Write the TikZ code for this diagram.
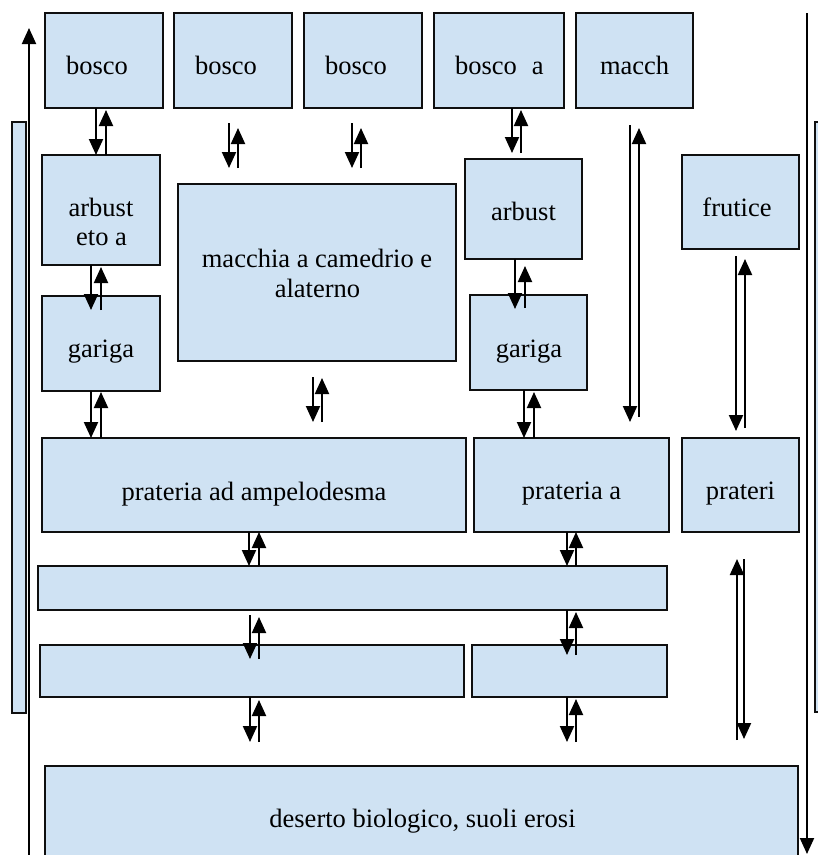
\documentclass[tikz,border=0pt]{standalone}
\usepackage{fontspec}
\setmainfont{Liberation Serif}
\usetikzlibrary{arrows.meta}
\definecolor{boxfill}{RGB}{207,226,243}
\definecolor{ink}{RGB}{15,15,15}
\begin{document}
\begin{tikzpicture}[x=1pt,y=-1pt,
  box/.style={draw=ink, fill=boxfill, line width=2.1pt, inner sep=0pt, outer sep=0pt, anchor=north west},
  lbl/.style={font=\fontsize{26.5}{30}\selectfont, inner sep=0pt, outer sep=0pt, text=black},
  arr/.style={draw=black, line width=2pt, -{Triangle[length=16pt,width=14pt]}},
]
\useasboundingbox (0,0) rectangle (818,855);
% boxes
\node[box, minimum width=118pt, minimum height=95pt] (bosco1) at (45,13) {};
\node[box, minimum width=118pt, minimum height=95pt] (bosco2) at (174,13) {};
\node[box, minimum width=118pt, minimum height=95pt] (bosco3) at (304,13) {};
\node[box, minimum width=130pt, minimum height=95pt] (boscoa) at (434,13) {};
\node[box, minimum width=117pt, minimum height=95pt] (macch) at (576,13) {};
\node[box, minimum width=118pt, minimum height=110pt] (arbL) at (42,155) {};
\node[box, minimum width=278pt, minimum height=177pt] (mac) at (178,184) {};
\node[box, minimum width=117pt, minimum height=100pt] (arbR) at (465,159) {};
\node[box, minimum width=117pt, minimum height=94pt] (frut) at (682,155) {};
\node[box, minimum width=118pt, minimum height=95pt] (garL) at (42,296) {};
\node[box, minimum width=117pt, minimum height=95pt] (garR) at (470,295) {};
\node[box, minimum width=424pt, minimum height=94pt] (pratL) at (42,438) {};
\node[box, minimum width=195pt, minimum height=94pt] (pratM) at (474,438) {};
\node[box, minimum width=117pt, minimum height=94pt] (pratR) at (682,438) {};
\node[box, minimum width=629pt, minimum height=44pt] (long) at (38,566) {};
\node[box, minimum width=424pt, minimum height=52pt] (r6L) at (40,645) {};
\node[box, minimum width=195pt, minimum height=52pt] (r6R) at (472,645) {};
\node[box, minimum width=753pt, minimum height=110pt] (des) at (45,766) {};
\node[box, minimum width=14pt, minimum height=591pt] (sideL) at (12,122) {};
\node[box, minimum width=16pt, minimum height=590pt] (sideR) at (815,122) {};
% labels
\node[lbl, anchor=base west] (t1) at (66,74) {bosco};
\node[lbl, anchor=base west] (t2) at (195,74) {bosco};
\node[lbl, anchor=base west] (t3) at (325,74) {bosco};
\node[lbl, anchor=base west] (t4) at (455,74) {bosco\hspace{15pt}a};
\node[lbl, anchor=base west] (t5) at (600,74) {macch};
\node[lbl, anchor=base] (t6) at (101,216) {arbust};
\node[lbl, anchor=base] (t7) at (101.5,245) {eto a};
\node[lbl, anchor=base] (t8) at (317,267) {macchia a camedrio e};
\node[lbl, anchor=base] (t9) at (317.5,297) {alaterno};
\node[lbl, anchor=base] (t10) at (523.5,220) {arbust};
\node[lbl, anchor=base] (t11) at (737,216) {frutice};
\node[lbl, anchor=base] (t12) at (101,357) {gariga};
\node[lbl, anchor=base] (t13) at (529,357) {gariga};
\node[lbl, anchor=base] (t14) at (254,500) {prateria ad ampelodesma};
\node[lbl, anchor=base] (t15) at (571.5,499) {prateria a};
\node[lbl, anchor=base] (t16) at (740.5,499) {prateri};
\node[lbl, anchor=base] (t17) at (422.5,827) {deserto biologico, suoli erosi};
% side lines
\coordinate (lbot) at (29,858);
\coordinate (ltop) at (29,28);
\coordinate (rtop) at (807,13);
\coordinate (rbot) at (807,854);
\draw[arr] (lbot) -- (ltop);
\draw[arr] (rtop) -- (rbot);
% arrow pairs
\draw[arr] (bosco1.south -| 96,0) -- (arbL.north -| 96,0);
\draw[arr] (arbL.north -| 106,0) -- (106,110);
\draw[arr] (229,123) -- (229,168);
\draw[arr] (238,168) -- (238,128);
\draw[arr] (352,123) -- (352,168);
\draw[arr] (361,168) -- (361,128);
\draw[arr] (boscoa.south -| 512,0) -- (512,153);
\draw[arr] (521,153) -- (521,110);
\draw[arr] (630,125) -- (630,422);
\draw[arr] (639,417) -- (639,128);
\draw[arr] (arbL.south -| 91,0) -- (91,310);
\draw[arr] (101,310) -- (101,267);
\draw[arr] (garL.south -| 91,0) -- (pratL.north -| 91,0);
\draw[arr] (pratL.north -| 101,0) -- (101,392);
\draw[arr] (313,377) -- (313,422);
\draw[arr] (322,422) -- (322,378);
\draw[arr] (arbR.south -| 515,0) -- (515,309);
\draw[arr] (525,308) -- (525,266);
\draw[arr] (garR.south -| 524,0) -- (pratM.north -| 524,0);
\draw[arr] (pratM.north -| 534,0) -- (534,392);
\draw[arr] (736,256) -- (736,431);
\draw[arr] (745,428) -- (745,259);
\draw[arr] (pratL.south -| 249,0) -- (long.north -| 249,0);
\draw[arr] (long.north -| 259,0) -- (pratL.south -| 259,0);
\draw[arr] (pratM.south -| 567,0) -- (long.north -| 567,0);
\draw[arr] (long.north -| 576,0) -- (pratM.south -| 576,0);
\draw[arr] (250,615) -- (250,659);
\draw[arr] (259,659) -- (259,617);
\draw[arr] (long.south -| 567,0) -- (567,655);
\draw[arr] (576,655) -- (576,612);
\draw[arr] (r6L.south -| 250,0) -- (250,742);
\draw[arr] (259,742) -- (259,700);
\draw[arr] (r6R.south -| 567,0) -- (567,742);
\draw[arr] (576,742) -- (576,699);
\draw[arr] (737,740) -- (737,559);
\draw[arr] (744,559) -- (744,739);
\end{tikzpicture}
\end{document}
